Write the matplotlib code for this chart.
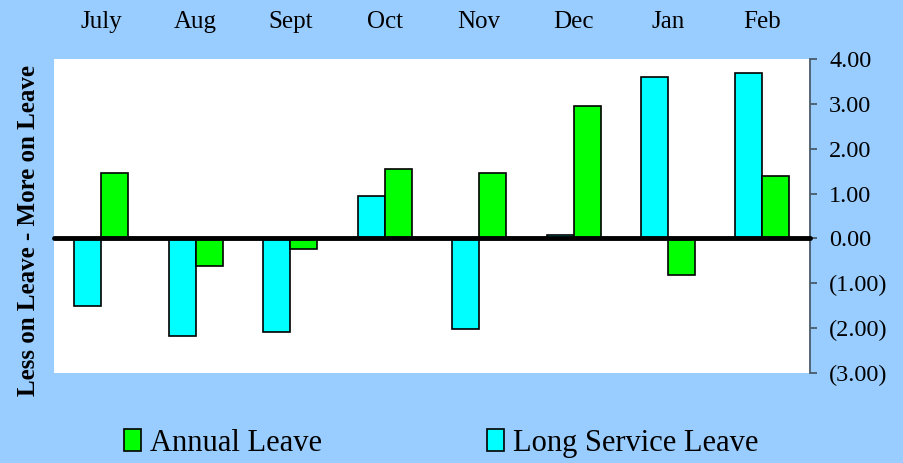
import numpy as np
import matplotlib
matplotlib.use('Agg')
import matplotlib.pyplot as plt
from matplotlib.patches import Patch
from matplotlib.ticker import FuncFormatter

plt.rcParams['font.family'] = ['Liberation Serif', 'DejaVu Serif']

months = ['July', 'Aug', 'Sept', 'Oct', 'Nov', 'Dec', 'Jan', 'Feb']
long_service = [-1.51, -2.17, -2.08, 0.94, -2.02, 0.08, 3.61, 3.70]
annual = [1.45, -0.62, -0.24, 1.54, 1.45, 2.96, -0.81, 1.40]
y_ticks = [4, 3, 2, 1, 0, -1, -2, -3]

bg = '#99CCFF'
fig = plt.figure(figsize=(9.04, 4.63), dpi=100, facecolor=bg)
ax = fig.add_axes([0.0597, 0.1944, 0.836, 0.678])
ax.set_facecolor('white')

x = np.arange(len(months))
w = 0.286
ax.bar(x - w / 2, long_service, w, color='#00FFFF', edgecolor='black', linewidth=1.2, zorder=2)
ax.bar(x + w / 2, annual, w, color='#00FF00', edgecolor='black', linewidth=1.2, zorder=2)

# thick zero line
ax.axhline(0, color='black', linewidth=3.5, solid_capstyle='round', zorder=3, clip_on=False)

ax.set_xlim(-0.5, len(months) - 0.5)
ax.set_ylim(-3, 4)

# months across the top
ax.xaxis.tick_top()
ax.set_xticks(x)
ax.set_xticklabels(months, fontsize=18)
ax.tick_params(axis='x', length=0, pad=19)

# value axis on the right
ax.yaxis.tick_right()
ax.set_yticks(y_ticks)
ax.yaxis.set_major_formatter(FuncFormatter(lambda v, p: '(%.2f)' % abs(v) if v < 0 else '%.2f' % v))
ax.tick_params(axis='y', direction='out', length=5, width=1.3, color='#4a5a6a', labelsize=17.5, pad=9)

for s in ['left', 'top', 'bottom']:
    ax.spines[s].set_visible(False)
ax.spines['right'].set_color('#4a5a6a')
ax.spines['right'].set_linewidth(1.3)

fig.text(0.031, 0.502, 'Less on Leave - More on Leave', rotation=90, fontsize=18,
         fontweight='bold', ha='center', va='center')

handles = [Patch(facecolor='#00FF00', edgecolor='black', linewidth=1.2),
           Patch(facecolor='#00FFFF', edgecolor='black', linewidth=1.2)]
fig.legend(handles, ['Annual Leave', 'Long Service Leave'], loc='center',
           bbox_to_anchor=(0.488, 0.043), ncol=2, frameon=False, fontsize=22,
           handlelength=0.55, handleheight=0.7, handletextpad=0.3, columnspacing=5.4)

fig.savefig('out.png', dpi=100, facecolor=bg)
